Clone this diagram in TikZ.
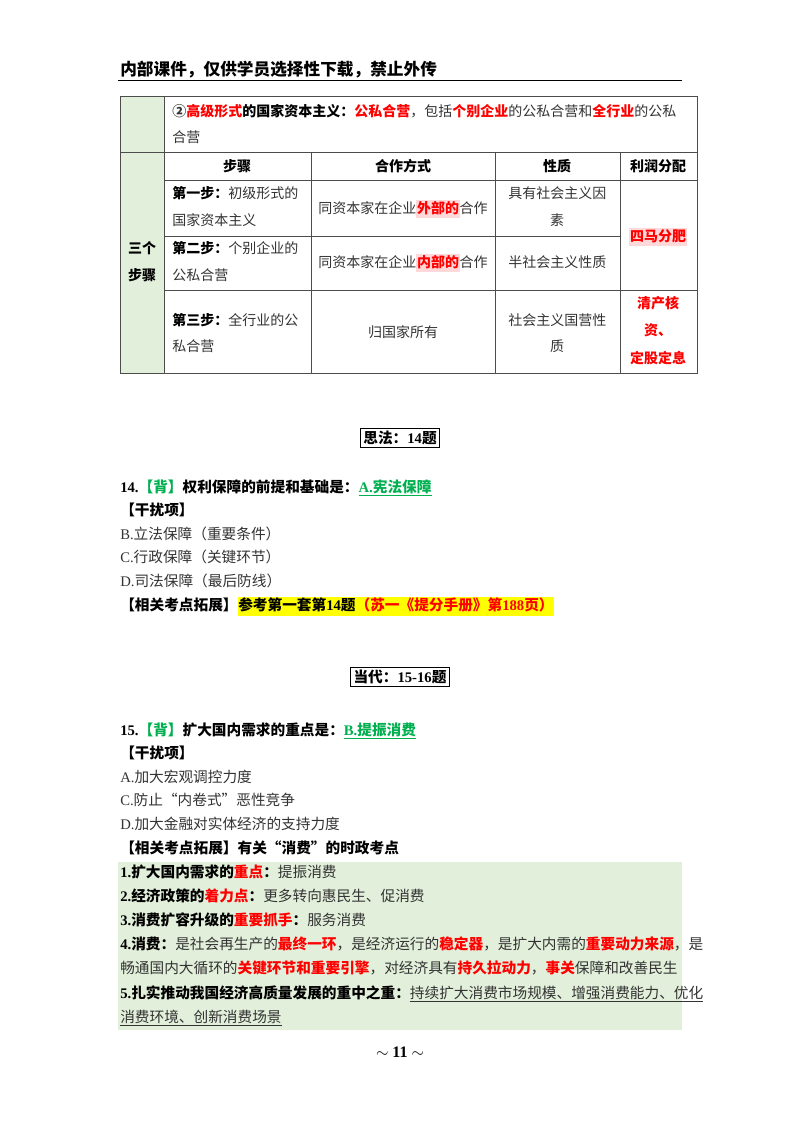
\documentclass[tikz,border=0pt]{standalone}
\usepackage{fontspec}
\setmainfont{Noto Sans CJK SC}
\newfontfamily\ser{Liberation Serif}
\usepackage{xcolor}
\definecolor{lg}{HTML}{E2EFDA}
\definecolor{rd}{HTML}{FF0000}
\definecolor{gn}{HTML}{00B050}
\definecolor{pk}{HTML}{FFD9D9}
\definecolor{yl}{HTML}{FFFF00}
\definecolor{tx}{HTML}{333333}
\newcommand{\rb}[1]{\textcolor{rd}{\bfseries #1}}
\newcommand{\gb}[1]{\textcolor{gn}{\bfseries #1}}
\newcommand{\hl}[2]{{\setlength{\fboxsep}{0.5pt}\colorbox{#1}{\strut #2}}}
\begin{document}
\begin{tikzpicture}[x=0.75pt,y=-0.75pt,
  tl/.style={anchor=base west,inner sep=0pt,font=\fontsize{10.5}{12}\selectfont,text=tx},
  tc/.style={anchor=base,inner sep=0pt,font=\fontsize{10.5}{12}\selectfont,text=tx},
  bl/.style={anchor=base west,inner sep=0pt,font=\fontsize{11}{13}\selectfont,text=black},
  sec/.style={draw=black,line width=0.8pt,inner sep=2pt,font=\fontsize{11}{13}\selectfont\bfseries},
  grid/.style={draw=black!70,line width=0.6pt}]
\useasboundingbox (0,0) rectangle (800,1132);
\fill[white] (0,0) rectangle (800,1132);
% header
\node[bl,font=\fontsize{12.5}{14}\selectfont\bfseries] (hdr) at (120,75) {内部课件，仅供学员选择性下载，禁止外传};
\draw[line width=0.6pt] (118,80) -- (682,80);
% table
\fill[lg] (120,96) rectangle (164,373);
\draw[grid] (120,96) rectangle (697,373);
\draw[grid] (164,96) -- (164,373);
\draw[grid] (120,152) -- (697,152);
\draw[grid] (164,180) -- (697,180);
\draw[grid] (164,236) -- (620,236);
\draw[grid] (164,290) -- (697,290);
\draw[grid] (311,152) -- (311,373);
\draw[grid] (495,152) -- (495,373);
\draw[grid] (620,152) -- (620,373);
\node[tl] (r1a) at (172,116) {\textbf{②}\rb{高级形式}\textbf{\color{black}的国家资本主义：}\rb{公私合营}，包括\rb{个别企业}的公私合营和\rb{全行业}的公私};
\node[tl] (r1b) at (172,142) {合营};
\node[tc,font=\fontsize{10.5}{12}\selectfont\bfseries,text=black] (h1) at (237,171) {步骤};
\node[tc,font=\fontsize{10.5}{12}\selectfont\bfseries,text=black] (h2) at (403,171) {合作方式};
\node[tc,font=\fontsize{10.5}{12}\selectfont\bfseries,text=black] (h3) at (557,171) {性质};
\node[tc,font=\fontsize{10.5}{12}\selectfont\bfseries,text=black] (h4) at (658,171) {利润分配};
\node[tl] (s1a) at (172,198) {\textbf{\color{black}第一步：}初级形式的};
\node[tl] (s1b) at (172,225) {国家资本主义};
\node[tl] (s2a) at (172,253) {\textbf{\color{black}第二步：}个别企业的};
\node[tl] (s2b) at (172,280) {公私合营};
\node[tl] (s3a) at (172,325) {\textbf{\color{black}第三步：}全行业的公};
\node[tl] (s3b) at (172,351) {私合营};
\node[tc] (c1) at (403,213) {同资本家在企业\hl{pk}{\rb{外部的}}合作};
\node[tc] (c2) at (403,267) {同资本家在企业\hl{pk}{\rb{内部的}}合作};
\node[tc] (c3) at (403,337) {归国家所有};
\node[tl] (n1a) at (508,198) {具有社会主义因};
\node[tc] (n1b) at (557,225) {素};
\node[tl] (n2) at (508,267) {半社会主义性质};
\node[tl] (n3a) at (508,325) {社会主义国营性};
\node[tc] (n3b) at (557,351) {质};
\node[tc] (p1) at (658,241) {\hl{pk}{\rb{四马分肥}}};
\node[tc] (p2) at (658,308) {\rb{清产核}};
\node[tc] (p3) at (658,335) {\rb{资、}};
\node[tc] (p4) at (658,363) {\rb{定股定息}};
\node[tc,font=\fontsize{10.5}{12}\selectfont\bfseries,text=black] (t1) at (142,253) {三个};
\node[tc,font=\fontsize{10.5}{12}\selectfont\bfseries,text=black] (t2) at (142,280) {步骤};
% section 1
\node[sec] (sec1) at (400,438) {思法：{\ser\bfseries 14}题};
\node[bl,font=\fontsize{11}{13}\selectfont\bfseries] (q14) at (120,492) {{\ser 14.}\textcolor{gn}{【背】}权利保障的前提和基础是：\textcolor{gn}{\underline{{\ser A.}宪法保障}}};
\node[bl,font=\fontsize{11}{13}\selectfont\bfseries] (g14) at (120,515) {【干扰项】};
\node[bl,text=tx] (b14) at (120,539) {{\ser B.}立法保障（重要条件）};
\node[bl,text=tx] (c14) at (120,562) {{\ser C.}行政保障（关键环节）};
\node[bl,text=tx] (d14) at (120,586) {{\ser D.}司法保障（最后防线）};
\node[bl,font=\fontsize{11}{13}\selectfont\bfseries] (x14) at (120,610) {【相关考点拓展】\hl{yl}{参考第一套第{\ser 14}题\textcolor{rd}{（苏一《提分手册》第{\ser 188}页）}}};
% section 2
\node[sec] (sec2) at (400,677) {当代：{\ser\bfseries 15-16}题};
\node[bl,font=\fontsize{11}{13}\selectfont\bfseries] (q15) at (120,735) {{\ser 15.}\textcolor{gn}{【背】}扩大国内需求的重点是：\textcolor{gn}{\underline{{\ser B.}提振消费}}};
\node[bl,font=\fontsize{11}{13}\selectfont\bfseries] (g15) at (120,758) {【干扰项】};
\node[bl,text=tx] (a15) at (120,782) {{\ser A.}加大宏观调控力度};
\node[bl,text=tx] (c15) at (120,805) {{\ser C.}防止“内卷式”恶性竞争};
\node[bl,text=tx] (d15) at (120,829) {{\ser D.}加大金融对实体经济的支持力度};
\node[bl,font=\fontsize{11}{13}\selectfont\bfseries] (x15) at (120,853) {【相关考点拓展】有关“消费”的时政考点};
\fill[lg] (118,862) rectangle (682,1030);
\node[bl,text=tx] (l1) at (120,877) {\textbf{\color{black}{\ser 1.}扩大国内需求的}\rb{重点}\textbf{\color{black}：}提振消费};
\node[bl,text=tx] (l2) at (120,901) {\textbf{\color{black}{\ser 2.}经济政策的}\rb{着力点}\textbf{\color{black}：}更多转向惠民生、促消费};
\node[bl,text=tx] (l3) at (120,925) {\textbf{\color{black}{\ser 3.}消费扩容升级的}\rb{重要抓手}\textbf{\color{black}：}服务消费};
\node[bl,text=tx] (l4) at (120,949) {\textbf{\color{black}{\ser 4.}消费：}是社会再生产的\rb{最终一环}，是经济运行的\rb{稳定器}，是扩大内需的\rb{重要动力来源}，是};
\node[bl,text=tx] (l4b) at (120,973) {畅通国内大循环的\rb{关键环节和重要引擎}，对经济具有\rb{持久拉动力}，\rb{事关}保障和改善民生};
\node[bl,text=tx] (l5) at (120,998) {\textbf{\color{black}{\ser 5.}扎实推动我国经济高质量发展的重中之重：}\underline{持续扩大消费市场规模、增强消费能力、优化}};
\node[bl,text=tx] (l5b) at (120,1022) {\underline{消费环境、创新消费场景}};
\node[anchor=base,inner sep=0pt,font=\fontsize{12}{14}\selectfont\bfseries\ser] (pg) at (400,1057) {$\sim$ 11 $\sim$};
\end{tikzpicture}
\end{document}
